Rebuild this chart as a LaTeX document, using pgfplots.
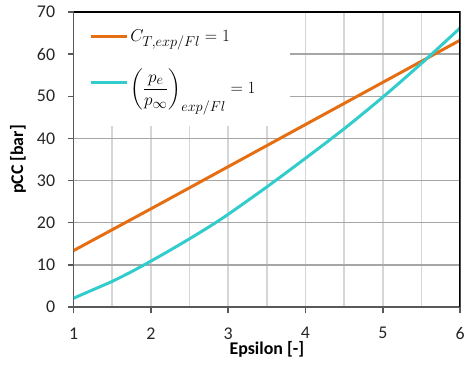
\documentclass[border=0pt]{standalone}
\usepackage{amsmath}
\usepackage{pgfplots}
\pgfplotsset{compat=1.18}
\usepackage{fontspec}
\setmainfont{Carlito}
\definecolor{orng}{HTML}{E66E12}
\definecolor{cyn}{HTML}{33CCCC}
\definecolor{gridmaj}{HTML}{A6A6A6}
\definecolor{gridlt}{HTML}{D6D6D6}
\definecolor{axgray}{HTML}{595959}
\begin{document}
\begin{tikzpicture}
\begin{axis}[
  name=ax,
  width=389pt, height=297pt, scale only axis,
  xmin=1, xmax=6, ymin=0, ymax=70,
  xtick={1,2,3,4,5,6}, minor xtick={1.5,2.5,3.5,4.5,5.5},
  ytick={0,10,...,70},
  xmajorgrids, xminorgrids, ymajorgrids,
  x grid style={gridlt, line width=1.5pt},
  minor x grid style={gridlt, line width=1.5pt},
  y grid style={gridmaj, line width=1.5pt},
  axis line style={axgray, line width=1.8pt},
  tick align=outside, tick pos=left,
  major tick length=6pt, minor tick length=0pt,
  tick style={axgray, line width=1.5pt},
  ticklabel style={font=\fontsize{18}{21}\selectfont, text=black!85},
  xticklabel style={yshift=-11pt},
  yticklabel style={xshift=-9pt},
  /pgf/number format/assume math mode=true,
  xlabel={\textbf{Epsilon [-]}}, ylabel={\textbf{pCC [bar]}},
  label style={font=\fontsize{18}{21}\selectfont},
  xlabel style={at={(rel axis cs:0.5,0)}, anchor=center, yshift=-43pt},
  ylabel style={at={(rel axis cs:0,0.5)}, anchor=center, rotate=0, yshift=56pt},
  legend style={at={(rel axis cs:0,1)}, anchor=north west, draw=none, fill=none,
    font=\fontsize{19}{22}\selectfont, inner xsep=0pt, inner ysep=0pt,
    xshift=16pt, yshift=-16pt, row sep=22pt},
  legend cell align=left,
  legend image code/.code={\draw[#1, line width=3pt] (0pt,0pt) -- (36pt,0pt);},
  every axis plot/.append style={line width=3pt},
]
\fill[white] (rel axis cs:0,1) rectangle ++(218pt,-115pt);
\addplot[orng, smooth] coordinates {(1,13.4) (2,23.3) (3,33.3) (4,43.3) (5,53.3) (6,63.3)};
\addlegendentry{$C_{T,exp/Fl}=1$}
\addplot[cyn, smooth] coordinates {(1,2.1) (1.25,4.1) (1.5,6.1) (1.75,8.4) (2,10.9) (2.25,13.5) (2.5,16.2) (2.75,19.0) (3,22.0) (3.5,28.5) (4,35.3) (4.5,42.3) (5,49.8) (5.5,57.8) (6,66.2)};
\addlegendentry{$\left(\dfrac{p_e}{p_\infty}\right)_{exp/Fl}=1$}
\draw[black, line width=3pt] (rel axis cs:0,1) -- (rel axis cs:1,1) -- (rel axis cs:1,0);
\end{axis}
\path (ax.south west) ++(-74pt,-60pt);
\path (ax.north east) ++(5pt,12pt);
\end{tikzpicture}
\end{document}
